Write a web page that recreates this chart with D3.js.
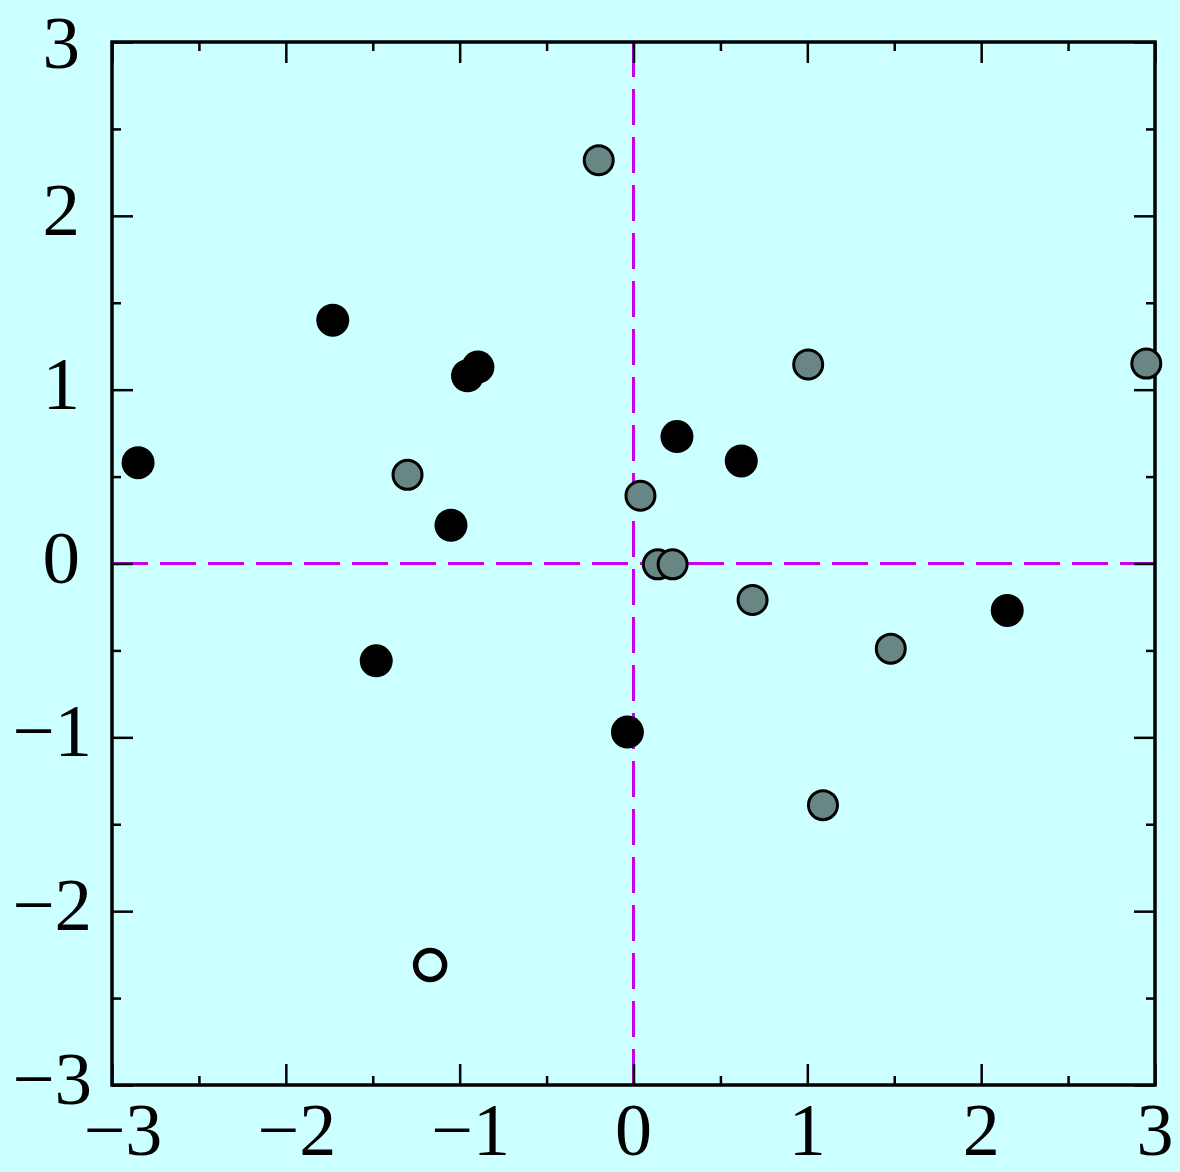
<!DOCTYPE html>
<html>
<head>
<meta charset="utf-8">
<script src="https://cdn.jsdelivr.net/npm/d3@7"></script>
<style>
  html, body { margin: 0; padding: 0; background: #ccffff; }
  svg { display: block; }
  text { font-family: "Liberation Serif", "DejaVu Serif", serif; }
</style>
</head>
<body>
<svg id="chart" width="1180" height="1172"></svg>
<script>
// Axis ticks and labels
const majorTicks = [-3, -2, -1, 0, 1, 2, 3];
const minorTicks = [-2.5, -1.5, -0.5, 0.5, 1.5, 2.5];
const tickLabels = ["\u22123", "\u22122", "\u22121", "0", "1", "2", "3"];

// Filled black points
const blackX = [-2.85, -1.73, -0.955, -0.895, -1.05, -1.48, -0.035, 0.25, 0.62, 2.15];
const blackY = [0.58, 1.40, 1.08, 1.13, 0.22, -0.56, -0.97, 0.73, 0.59, -0.27];

// Grey outlined points
const greyX = [-0.20, -1.30, 0.04, 0.14, 0.225, 0.685, 1.005, 1.48, 1.09, 2.95];
const greyY = [2.32, 0.51, 0.39, -0.005, -0.005, -0.21, 1.145, -0.49, -1.39, 1.15];

// Open ring point
const openX = [-1.17];
const openY = [-2.31];

const svg = d3.select("#chart");
const x = d3.scaleLinear().domain([-3, 3]).range([112, 1155]);
const y = d3.scaleLinear().domain([-3, 3]).range([1085, 42]);

// Background
svg.append("rect").attr("width", 1180).attr("height", 1172).attr("fill", "#ccffff");

// Reference lines through the origin
const refColor = "#c800f2";
svg.append("line")
  .attr("x1", x(-3)).attr("x2", x(3)).attr("y1", y(0)).attr("y2", y(0))
  .attr("stroke", refColor).attr("stroke-width", 3).attr("stroke-dasharray", "36,12");
svg.append("line")
  .attr("x1", x(0)).attr("x2", x(0)).attr("y1", y(-3)).attr("y2", y(3))
  .attr("stroke", refColor).attr("stroke-width", 3).attr("stroke-dasharray", "36,12");

// Inward ticks on all four sides of the frame
function ticks(axisFn, scale, values, size, transform) {
  const g = svg.append("g").attr("transform", transform)
    .call(axisFn(scale).tickValues(values).tickSize(size).tickFormat(""));
  g.select(".domain").remove();
  g.selectAll(".tick line").attr("stroke", "#000").attr("stroke-width", 2.5);
  return g;
}
[[majorTicks, 21], [minorTicks, 9]].forEach(([vals, len]) => {
  ticks(d3.axisBottom, x, vals, -len, `translate(0,${y(-3)})`);
  ticks(d3.axisTop, x, vals, -len, `translate(0,${y(3)})`);
  ticks(d3.axisLeft, y, vals, -len, `translate(${x(-3)},0)`);
  ticks(d3.axisRight, y, vals, -len, `translate(${x(3)},0)`);
});

// Frame
svg.append("rect")
  .attr("x", x(-3)).attr("y", y(3))
  .attr("width", x(3) - x(-3)).attr("height", y(-3) - y(3))
  .attr("fill", "none").attr("stroke", "#000").attr("stroke-width", 3.5);

// Tick labels
const fontSize = 75;
svg.append("g").selectAll("text")
  .data(majorTicks)
  .join("text")
  .attr("x", (d) => x(d) + (d < 0 ? 11 : 0))
  .attr("y", y(-3) + 70)
  .attr("text-anchor", "middle")
  .attr("font-size", 74)
  .attr("fill", "#000")
  .text((d, i) => tickLabels[i]);

svg.append("g").selectAll("text")
  .data(majorTicks)
  .join("text")
  .attr("x", (d) => (d < 0 ? 92 : 80))
  // keep the topmost label inside the page
  .attr("y", (d) => Math.max(y(d) + 19, 68))
  .attr("text-anchor", "end")
  .attr("font-size", fontSize)
  .attr("fill", "#000")
  .text((d, i) => tickLabels[i]);

// Points
svg.append("g").selectAll("circle")
  .data(d3.zip(blackX, blackY))
  .join("circle")
  .attr("cx", (d) => x(d[0])).attr("cy", (d) => y(d[1]))
  .attr("r", 16.5).attr("fill", "#000");

svg.append("g").selectAll("circle")
  .data(d3.zip(greyX, greyY))
  .join("circle")
  .attr("cx", (d) => x(d[0])).attr("cy", (d) => y(d[1]))
  .attr("r", 14.5).attr("fill", "#688684")
  .attr("stroke", "#000").attr("stroke-width", 3);

svg.append("g").selectAll("circle")
  .data(d3.zip(openX, openY))
  .join("circle")
  .attr("cx", (d) => x(d[0])).attr("cy", (d) => y(d[1]))
  .attr("r", 14.5).attr("fill", "none")
  .attr("stroke", "#000").attr("stroke-width", 5.5);
</script>
</body>
</html>
